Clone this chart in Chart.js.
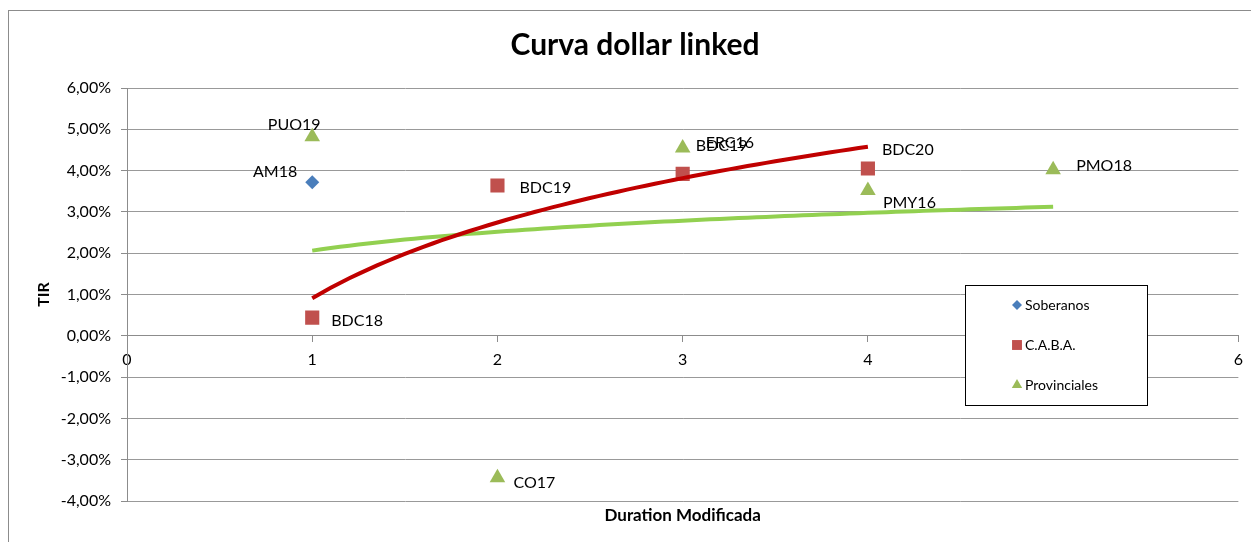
<!DOCTYPE html>
<html>
<head>
<meta charset="utf-8">
<script src="https://cdn.jsdelivr.net/npm/chart.js@4.4.1/dist/chart.umd.min.js"></script>
<style>
  html, body { margin: 0; padding: 0; background: #fff; }
  #wrap { position: relative; width: 1251px; height: 542px; overflow: hidden; }
  #frame { position: absolute; left: 8px; top: 10px; width: 1260px; height: 560px; border: 1px solid #8c8c8c; box-sizing: border-box; }
  #chart { position: absolute; left: 0; top: 0; }
</style>
</head>
<body>
<div id="wrap">
  <div id="frame"></div>
  <canvas id="chart" width="1251" height="542"></canvas>
</div>
<script>
// Data (TIR in %)
const soberanosX = [1];
const soberanosY = [3.72];
const soberanosNames = ['AM18'];

const cabaX = [1, 2, 3, 4];
const cabaY = [0.44, 3.64, 3.92, 4.05];
const cabaNames = ['BDC18', 'BDC19', 'BDC19', 'BDC20'];

const provX = [1, 2, 3, 4, 5];
const provY = [4.82, -3.44, 4.55, 3.52, 4.02];
const provNames = ['PUO19', 'CO17', 'ERC16', 'PMY16', 'PMO18'];

const xTicks = [0, 1, 2, 3, 4, 5, 6];
const yTicks = [-4, -3, -2, -1, 0, 1, 2, 3, 4, 5, 6];

// label placement relative to the marker (dx, dy, align)
const labelPos = {
  AM18: [-15, -10, 'right'],
  PUO19: [-18, -12, 'center'],
  BDC18: [19, 3, 'left'],
  BDC19: [22, 2, 'left'],
  BDC20: [14, -19, 'left'],
  CO17: [16, 5, 'left'],
  ERC16: [23, -5, 'left'],
  PMY16: [15, 12, 'left'],
  PMO18: [23, -4, 'left']
};
// the x=3 C.A.B.A. label sits up next to ERC16
const labelOverride = { 'C.A.B.A.-2': [13, -28, 'left'] };

const FONT = 'Lato, "Open Sans", sans-serif';

// Excel style logarithmic trendline: y = a + b ln(x)
function logFit(xs, ys) {
  const lx = xs.map(Math.log);
  const n = xs.length;
  const mx = lx.reduce((s, v) => s + v, 0) / n;
  const my = ys.reduce((s, v) => s + v, 0) / n;
  let sxy = 0, sxx = 0;
  for (let i = 0; i < n; i++) {
    sxy += (lx[i] - mx) * (ys[i] - my);
    sxx += (lx[i] - mx) * (lx[i] - mx);
  }
  const b = sxy / sxx;
  return { a: my - b * mx, b };
}
function trend(xs, ys) {
  const f = logFit(xs, ys);
  const lo = Math.min(...xs), hi = Math.max(...xs);
  const pts = [];
  for (let x = lo; x <= hi + 1e-9; x += 0.05) pts.push({ x, y: f.a + f.b * Math.log(x) });
  return pts;
}
const zip = (xs, ys) => xs.map((x, i) => ({ x, y: ys[i] }));
const pct = v => v.toFixed(2).replace('.', ',') + '%';

const pointLabels = {
  id: 'pointLabels',
  afterDatasetsDraw(chart) {
    const ctx = chart.ctx;
    ctx.save();
    ctx.font = '16px ' + FONT;
    ctx.fillStyle = '#000';
    ctx.textBaseline = 'middle';
    chart.data.datasets.forEach((ds, di) => {
      if (!ds.names) return;
      const meta = chart.getDatasetMeta(di);
      meta.data.forEach((pt, i) => {
        const name = ds.names[i];
        const p = labelOverride[ds.label + '-' + i] || labelPos[name] || [15, 0, 'left'];
        ctx.textAlign = p[2];
        ctx.fillText(name, pt.x + p[0], pt.y + p[1]);
      });
    });
    ctx.restore();
  }
};

const boxLegend = {
  id: 'boxLegend',
  afterDraw(chart) {
    const ctx = chart.ctx;
    const x = 965, y = 285, w = 182, h = 120;
    ctx.save();
    ctx.fillStyle = '#fff';
    ctx.fillRect(x, y, w, h);
    ctx.strokeStyle = '#000';
    ctx.lineWidth = 1;
    ctx.strokeRect(x + 0.5, y + 0.5, w, h);
    ctx.font = '14px ' + FONT;
    ctx.textBaseline = 'middle';
    ctx.textAlign = 'left';
    let row = 0;
    chart.data.datasets.forEach(ds => {
      if (!ds.names) return;
      const cy = y + 20 + row * 40;
      ctx.fillStyle = ds.backgroundColor;
      Chart.helpers.drawPoint(ctx, { pointStyle: ds.pointStyle, radius: ds.legendRadius, borderWidth: 0 }, x + 52, cy);
      ctx.fillStyle = '#000';
      ctx.fillText(ds.label, x + 60, cy);
      row++;
    });
    ctx.restore();
  }
};

new Chart(document.getElementById('chart'), {
  type: 'scatter',
  data: {
    datasets: [
      {
        label: 'Soberanos', names: soberanosNames, data: zip(soberanosX, soberanosY),
        pointStyle: 'rectRot', pointRadius: 7, legendRadius: 5,
        backgroundColor: '#4a7ebb', borderWidth: 0
      },
      {
        label: 'C.A.B.A.', names: cabaNames, data: zip(cabaX, cabaY),
        pointStyle: 'rect', pointRadius: 10, legendRadius: 7,
        backgroundColor: '#c0504d', borderWidth: 0
      },
      {
        label: 'Provinciales', names: provNames, data: zip(provX, provY),
        pointStyle: 'triangle', pointRadius: 9, legendRadius: 6,
        backgroundColor: '#9bbb59', borderWidth: 0
      },
      {
        label: 'trend C.A.B.A.', data: trend(cabaX, cabaY), showLine: true,
        borderColor: '#c00000', borderWidth: 4, pointRadius: 0, order: -1
      },
      {
        label: 'trend Provinciales', data: trend(provX, provY), showLine: true,
        borderColor: '#92d050', borderWidth: 4, pointRadius: 0, order: -1
      }
    ]
  },
  options: {
    responsive: false,
    animation: false,
    layout: { padding: { left: 30, right: 11, top: 0, bottom: 0 } },
    plugins: {
      legend: { display: false },
      tooltip: { enabled: false },
      title: {
        display: true, text: 'Curva dollar linked', color: '#000',
        font: { family: FONT, size: 30, weight: 'bold' },
        padding: { top: 27, bottom: 25 }
      }
    },
    scales: {
      x: {
        type: 'linear', min: 0, max: 6, position: { y: 0 },
        afterBuildTicks: s => { s.ticks = xTicks.map(v => ({ value: v })); },
        ticks: { color: '#000', padding: 8, font: { family: FONT, size: 16 }, callback: v => String(v) },
        grid: { drawOnChartArea: false, drawTicks: true, tickLength: 6, color: '#8c8c8c' },
        border: { color: '#8c8c8c' }
      },
      x2: {
        type: 'linear', position: 'bottom', min: 0, max: 6,
        ticks: { display: false },
        grid: { display: false },
        border: { display: false },
        afterFit: s => { s.height = 41; },
        title: {
          display: true, text: 'Duration Modificada', color: '#000',
          font: { family: FONT, size: 17, weight: 'bold' },
          padding: { top: 0, bottom: 16 }
        }
      },
      y: {
        type: 'linear', min: -4, max: 6,
        afterBuildTicks: s => { s.ticks = yTicks.map(v => ({ value: v })); },
        afterFit: s => { s.width = 97; },
        ticks: { color: '#000', padding: 10, font: { family: FONT, size: 16 }, callback: v => pct(v) },
        grid: { color: '#999', tickLength: 6, tickColor: '#8c8c8c' },
        border: { color: '#8c8c8c' },
        title: {
          display: true, text: 'TIR', color: '#000',
          font: { family: FONT, size: 16, weight: 'bold' },
          padding: { top: 4, bottom: 0 }
        }
      }
    }
  },
  plugins: [pointLabels, boxLegend]
});
</script>
</body>
</html>
